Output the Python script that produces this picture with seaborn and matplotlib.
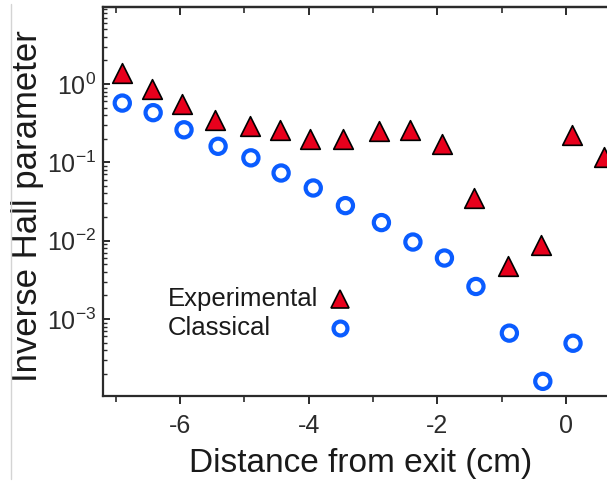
import matplotlib
matplotlib.use("Agg")
import matplotlib.lines as mlines
import matplotlib.pyplot as plt
import matplotlib.ticker as mticker
import pandas as pd
import seaborn as sns

# experimental inverse Hall parameter (triangles)
exp_x = [-6.90, -6.44, -5.97, -5.46, -4.91, -4.44, -3.98, -3.47, -2.91, -2.42,
         -1.93, -1.43, -0.90, -0.39, 0.09, 0.59]
exp_y = [1.38, 0.86, 0.56, 0.35, 0.29, 0.26, 0.20, 0.20, 0.25, 0.26,
         0.17, 0.035, 0.0048, 0.0088, 0.22, 0.117]

# classical inverse Hall parameter (circles)
cls_x = [-6.90, -6.42, -5.94, -5.41, -4.90, -4.43, -3.93, -3.43, -2.87, -2.38,
         -1.89, -1.40, -0.88, -0.36, 0.11]
cls_y = [0.57, 0.43, 0.26, 0.16, 0.114, 0.073, 0.047, 0.028, 0.017, 0.0096,
         0.006, 0.0026, 0.00066, 0.00016, 0.00049]

x_major = [-6, -4, -2, 0]
x_minor = [-7, -5, -3, -1]
legend_labels = ["Experimental", "Classical"]

sns.set_style("ticks")
plt.rcParams["font.family"] = ["Liberation Sans", "DejaVu Sans"]
plt.rcParams["axes.unicode_minus"] = False
plt.rcParams["mathtext.default"] = "regular"

red = "#e8001c"
blue = "#0a5cff"
dark = "#2b2b2b"

df_exp = pd.DataFrame({"x": exp_x, "y": exp_y})
df_cls = pd.DataFrame({"x": cls_x, "y": cls_y})

fig = plt.figure(figsize=(6.07, 4.83), dpi=100)
ax = fig.add_axes([103 / 607, 1 - 396 / 483, 514.4 / 607, 389 / 483])

sns.scatterplot(data=df_cls, x="x", y="y", ax=ax, marker="o", s=120,
                facecolors="none", edgecolor=blue, linewidth=3.0, zorder=3)
sns.scatterplot(data=df_exp, x="x", y="y", ax=ax, marker="^", s=200,
                color=red, edgecolor="black", linewidth=1.2, zorder=4)

ax.set_yscale("log")
ax.set_xlim(-7.2, 0.8)
ax.set_ylim(1.04e-4, 9.6)

ax.set_xticks(x_major)
ax.set_xticks(x_minor, minor=True)
ax.xaxis.set_major_formatter(mticker.FormatStrFormatter("%d"))
ax.yaxis.set_major_locator(mticker.LogLocator(base=10, numticks=10))
ax.yaxis.set_minor_locator(mticker.LogLocator(base=10, subs=range(2, 10), numticks=10))
ax.yaxis.set_minor_formatter(mticker.NullFormatter())

for side in ["left", "bottom", "top", "right"]:
    ax.spines[side].set_color(dark)
    ax.spines[side].set_linewidth(1.6)

ax.tick_params(axis="x", which="major", direction="out", length=6, width=1.4,
               colors=dark, labelsize=18, pad=7)
ax.tick_params(axis="x", which="minor", direction="out", length=4, width=1.2, colors=dark)
ax.tick_params(axis="y", which="major", direction="in", length=5, width=1.4,
               colors=dark, labelsize=18, pad=5)
ax.tick_params(axis="y", which="minor", direction="in", length=3, width=1.0, colors=dark)

top = ax.secondary_xaxis("top")
top.set_xticks(x_major)
top.set_xticks(x_minor, minor=True)
top.tick_params(axis="x", which="major", direction="in", length=6, width=1.4,
                colors=dark, labeltop=False)
top.tick_params(axis="x", which="minor", direction="in", length=4, width=1.2, colors=dark)
top.spines["top"].set_color(dark)
top.spines["top"].set_linewidth(1.6)

ax.set_xlabel("Distance from exit (cm)", fontsize=24, color="#1a1a1a", labelpad=7)
ax.set_ylabel("Inverse Hall parameter", fontsize=25, color="#1a1a1a")
ax.yaxis.set_label_coords(-0.114, 0.488)

# legend: labels left aligned, markers in one column to their right
legend_handles = [
    dict(marker="^", color=red, markeredgecolor="black", markeredgewidth=1.2,
         markersize=13),
    dict(marker="o", markerfacecolor="none", markeredgecolor=blue,
         markeredgewidth=3.0, markersize=10),
]
for i, (label, style) in enumerate(zip(legend_labels, legend_handles)):
    yy = 1 - (299 + 29 * i) / 483
    fig.text(168 / 607, yy, label, fontsize=18.5, color="#1a1a1a", va="center", ha="left")
    fig.add_artist(mlines.Line2D([340 / 607], [yy], transform=fig.transFigure,
                                linestyle="None", **style))

fig.add_artist(mlines.Line2D([11 / 607, 11 / 607], [1 - 479 / 483, 1 - 4 / 483],
                             transform=fig.transFigure, color="#d4d4d4", linewidth=1))

fig.savefig("out.png", dpi=100)
